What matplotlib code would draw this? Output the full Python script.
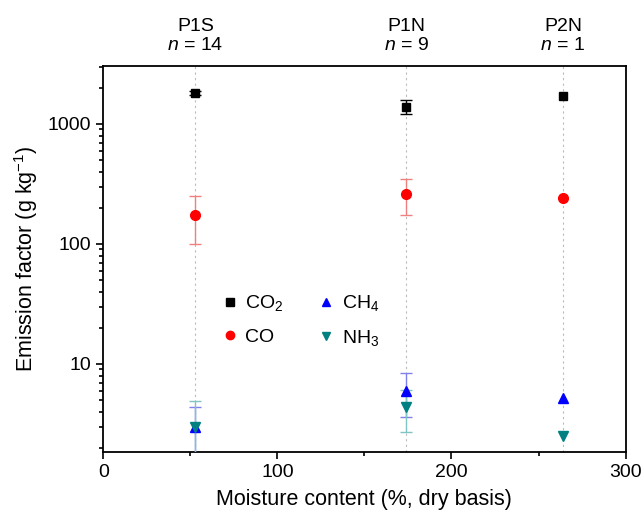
import matplotlib
matplotlib.use('Agg')
import matplotlib.pyplot as plt
import numpy as np
from matplotlib.ticker import FixedLocator, NullFormatter

plt.rcParams['font.family'] = ['Liberation Sans', 'DejaVu Sans']
plt.rcParams['mathtext.fontset'] = 'custom'
plt.rcParams['mathtext.rm'] = 'Liberation Sans'
plt.rcParams['mathtext.it'] = 'Liberation Sans:italic'

# sites and moisture content (%, dry basis)
sites = ['P1S', 'P1N', 'P2N']
counts = [14, 9, 1]
moisture = [53, 174, 264]

co2 = [1810, 1390, 1710]
co2_err = [70, 190, 0]
co = [174, 259, 240]
co_err = [75, 86, 0]
ch4 = [3.0, 6.0, 5.2]
ch4_err = [1.4, 2.4, 0]
nh3 = [3.0, 4.4, 2.5]
nh3_err = [1.9, 1.7, 0]

fig = plt.figure(figsize=(6.41, 5.2), dpi=100)
ax = fig.add_axes([0.161, 0.131, 0.815, 0.742])

for x in moisture:
    ax.axvline(x, color='#bbbbbb', linestyle=(0, (2, 3)), linewidth=0.8, zorder=0)

series = [
    (co2, co2_err, 's', 'black', 'black', 6, 'CO$_2$'),
    (co, co_err, 'o', '#ff0000', '#f08080', 7, 'CO'),
    (ch4, ch4_err, '^', '#0000ff', '#8080ee', 7, 'CH$_4$'),
    (nh3, nh3_err, 'v', '#008080', '#80c4c4', 7, 'NH$_3$'),
]
handles = []
xs = np.array(moisture)
for vals, errs, mk, col, ecol, ms, lab in series:
    v = np.array(vals)
    e = np.array(errs)
    has = e > 0  # single sample (n = 1) has no error bar
    ax.errorbar(xs[has], v[has], yerr=e[has], fmt='none', ecolor=ecol,
                elinewidth=1, capsize=4, zorder=3)
    h, = ax.plot(moisture, vals, linestyle='none', marker=mk, color=col, ms=ms,
                 label=lab, zorder=4)
    handles.append(h)

ax.set_yscale('log')
ax.set_xlim(0, 300)
ax.set_ylim(1.85, 3040)
ax.set_xticks([0, 100, 200, 300])
ax.xaxis.set_minor_locator(FixedLocator([50, 150, 250]))
ax.set_yticks([10, 100, 1000])
ax.set_yticklabels(['10', '100', '1000'])
ax.yaxis.set_minor_formatter(NullFormatter())
ax.tick_params(which='both', direction='out', labelsize=14, width=1.2)
ax.tick_params(which='major', length=5)
ax.tick_params(which='minor', length=3)
for s in ax.spines.values():
    s.set_linewidth(1.3)

ax.set_xlabel('Moisture content (%, dry basis)', fontsize=15.5, labelpad=6)
ax.set_ylabel('Emission factor (g kg$^{-1}$)', fontsize=15.5, labelpad=6)

for x, name, n in zip(moisture, sites, counts):
    ax.text(x, 1.03, name + '\n$n$ = ' + str(n), transform=ax.get_xaxis_transform(),
            ha='center', va='bottom', fontsize=14, linespacing=1.2)

leg = ax.legend(handles=handles, loc='center left', bbox_to_anchor=(0.205, 0.34), ncol=2,
                frameon=False, fontsize=14, handletextpad=0.2, columnspacing=1.6,
                handlelength=1.2, borderaxespad=0, labelspacing=0.75)
for h in leg.legend_handles:
    h.set_markersize(6)

fig.savefig('out.png', dpi=100)
